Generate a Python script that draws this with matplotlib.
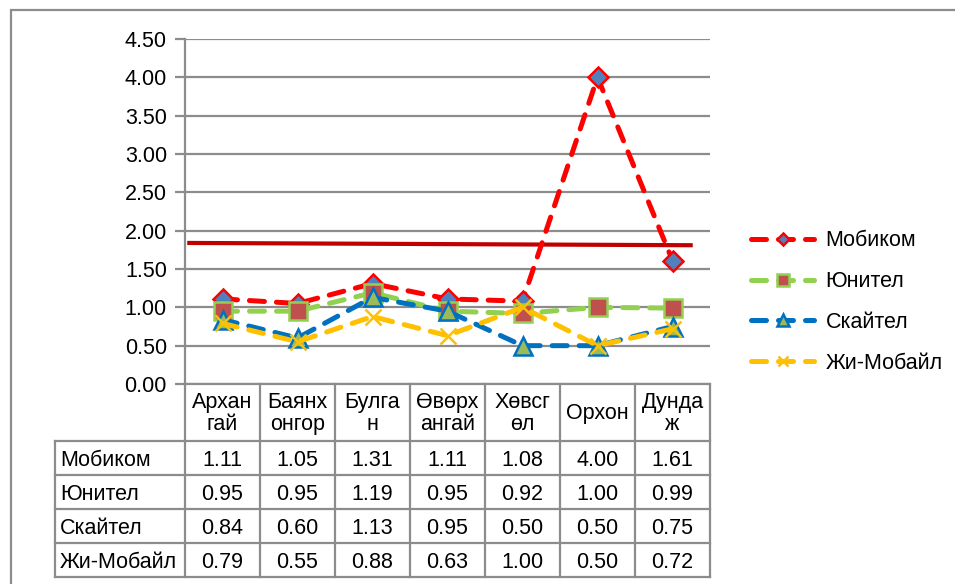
import matplotlib
matplotlib.use("Agg")
import matplotlib.pyplot as plt
from matplotlib.patches import Rectangle

plt.rcParams['font.family'] = ['Liberation Sans', 'DejaVu Sans']

# data
categories = ["Архан\nгай", "Баянх\nонгор", "Булга\nн", "Өвөрх\nангай", "Хөвсг\nөл", "Орхон", "Дунда\nж"]
series_names = ["Мобиком", "Юнител", "Скайтел", "Жи-Мобайл"]
mobicom = [1.11, 1.05, 1.31, 1.11, 1.08, 4.00, 1.61]
unitel = [0.95, 0.95, 1.19, 0.95, 0.92, 1.00, 0.99]
skytel = [0.84, 0.60, 1.13, 0.95, 0.50, 0.50, 0.75]
gmobile = [0.79, 0.55, 0.88, 0.63, 1.00, 0.50, 0.72]
ref_line_x = [-0.47, 6.27]
ref_line_y = [1.84, 1.81]
yticks = [0.0, 0.5, 1.0, 1.5, 2.0, 2.5, 3.0, 3.5, 4.0, 4.5]

values = [mobicom, unitel, skytel, gmobile]
styles = [
    dict(color='#FF0000', marker='D', mfc='#4F81BD', mec='#FF0000', ms=10),
    dict(color='#92D050', marker='s', mfc='#C0504D', mec='#92D050', ms=13),
    dict(color='#0070C0', marker='^', mfc='#9BBB59', mec='#0070C0', ms=13),
    dict(color='#FFC000', marker='x', mfc='#FFC000', mec='#FFC000', ms=11),
]

W, H = 955, 584
fig = plt.figure(figsize=(W / 100, H / 100), dpi=100)
FS = 15.5
grid_c = '#8C8C8C'

# outer frame
fig.patches.append(Rectangle((11 / W, -0.1), 1.2, 1 - 10 / H + 0.1, transform=fig.transFigure,
                             fill=False, edgecolor=grid_c, linewidth=1.6))

left, right, top, bottom = 185, 710, 39, 384
ax = fig.add_axes([left / W, 1 - bottom / H, (right - left) / W, (bottom - top) / H])
x = list(range(len(categories)))

ax.plot(ref_line_x, ref_line_y, color='#C00000', linewidth=3, solid_capstyle='butt', zorder=2)

handles = []
for name, vals, st in zip(series_names, values, styles):
    ln, = ax.plot(x, vals, linestyle=(0, (3.0, 2.4)), linewidth=3.6, dash_capstyle='round',
                  color=st['color'], marker=st['marker'], markersize=st['ms'],
                  markerfacecolor=st['mfc'], markeredgecolor=st['mec'], markeredgewidth=1.8,
                  label=name, zorder=3)
    handles.append(ln)

ax.set_xlim(-0.5, len(categories) - 0.5)
ax.set_ylim(0, 4.5)
ax.set_yticks(yticks)
ax.set_yticklabels([f"{v:.2f}" for v in yticks], fontsize=FS)
ax.set_xticks([])
ax.yaxis.grid(True, color=grid_c, linewidth=1.6)
ax.set_axisbelow(True)
for s in ['top', 'right']:
    ax.spines[s].set_visible(False)
ax.spines['left'].set_color(grid_c)
ax.spines['left'].set_linewidth(1.6)
ax.spines['bottom'].set_color(grid_c)
ax.spines['bottom'].set_linewidth(1.6)
ax.tick_params(axis='y', length=7, width=1.6, color=grid_c, pad=6)

# data table below the plot
tleft, ttop = 55, bottom
head_h, row_h = 57, 34
tbottom = ttop + head_h + row_h * len(series_names)
tax = fig.add_axes([tleft / W, 1 - tbottom / H, (right - tleft) / W, (tbottom - ttop) / H])
tax.set_xlim(tleft, right)
tax.set_ylim(tbottom, ttop)
tax.axis('off')
col_w = (right - left) / len(categories)
lw = 1.6
# vertical lines
for i in range(len(categories) + 1):
    xx = left + i * col_w
    tax.plot([xx, xx], [ttop, tbottom], color=grid_c, linewidth=lw, clip_on=False)
tax.plot([tleft, tleft], [ttop + head_h, tbottom], color=grid_c, linewidth=lw, clip_on=False)
# horizontal lines
for j in range(len(series_names) + 1):
    yy = ttop + head_h + j * row_h
    tax.plot([tleft, right], [yy, yy], color=grid_c, linewidth=lw, clip_on=False)

for i, c in enumerate(categories):
    tax.text(left + (i + 0.5) * col_w, ttop + head_h / 2 + 1, c, ha='center', va='center',
             fontsize=FS, linespacing=1.05)
for j, (name, vals) in enumerate(zip(series_names, values)):
    yc = ttop + head_h + (j + 0.5) * row_h + 2
    tax.text(tleft + 5, yc, name, ha='left', va='center', fontsize=FS)
    for i, v in enumerate(vals):
        tax.text(left + (i + 0.5) * col_w, yc, f"{v:.2f}", ha='center', va='center', fontsize=FS)

fig.legend(handles=handles, loc='center left', bbox_to_anchor=(732 / W, 1 - 302 / H),
           frameon=False, fontsize=FS, handlelength=2.9, handletextpad=0.55,
           labelspacing=0.92, numpoints=1, markerscale=0.65)

fig.savefig('out.png', dpi=100)
